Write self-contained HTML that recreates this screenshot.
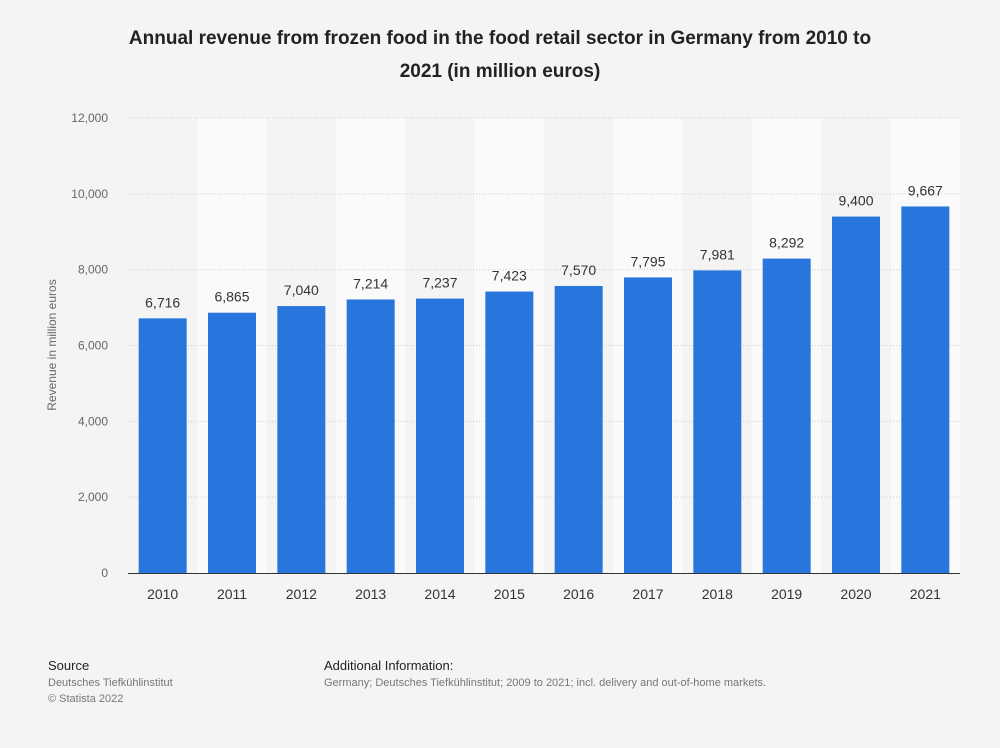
<!DOCTYPE html>
<html><head><meta charset="utf-8"><style>
body{margin:0;background:#f4f4f4;font-family:"Liberation Sans",sans-serif;}
#c{width:1000px;height:743px;position:relative;}
</style></head><body><div id="c">
<svg width="1000" height="743">
<text x="500" y="44" text-anchor="middle" font-size="19" font-weight="bold" fill="#222">Annual revenue from frozen food in the food retail sector in Germany from 2010 to</text>
<text x="500" y="77" text-anchor="middle" font-size="19" font-weight="bold" fill="#222">2021 (in million euros)</text>
<g id="plot"></g>
<text transform="translate(56,345) rotate(-90)" text-anchor="middle" font-size="12" fill="#666">Revenue in million euros</text>
<text x="48" y="670" font-size="13" fill="#222">Source</text>
<text x="48" y="686" font-size="11" fill="#777">Deutsches Tiefkühlinstitut</text>
<text x="48" y="702" font-size="11" fill="#777">© Statista 2022</text>
<text x="324" y="670" font-size="13" fill="#222">Additional Information:</text>
<text x="324" y="686" font-size="11" fill="#777">Germany; Deutsches Tiefkühlinstitut; 2009 to 2021; incl. delivery and out-of-home markets.</text>
</svg></div>
<script>
const categories=["2010","2011","2012","2013","2014","2015","2016","2017","2018","2019","2020","2021"];
const values=[6716,6865,7040,7214,7237,7423,7570,7795,7981,8292,9400,9667];
const valueLabels=["6,716","6,865","7,040","7,214","7,237","7,423","7,570","7,795","7,981","8,292","9,400","9,667"];
const yTicks=[0,2000,4000,6000,8000,10000,12000];
const yTickLabels=["0","2,000","4,000","6,000","8,000","10,000","12,000"];
const NS="http://www.w3.org/2000/svg";
const g=document.getElementById('plot');
const x0=128,x1=960,y0=573,y1=118,yMax=12000;
const step=(x1-x0)/categories.length,bw=48;
const y=v=>y0-(v/yMax)*(y0-y1);
const xc=i=>x0+step*(i+0.5);
function mk(t,a){const e=document.createElementNS(NS,t);for(const k in a)e.setAttribute(k,a[k]);g.appendChild(e);return e;}
categories.forEach((c,i)=>{if(i%2==1){const r=mk('rect',{x:x0+step*i,y:y1,width:step,height:y0-y1,fill:'#fafafa'});

}});
yTicks.forEach((t,i)=>{if(t>0){const l=mk('line',{x1:x0,x2:x1,y1:y(t),y2:y(t),stroke:'#ccc','stroke-dasharray':'1,2'});

}
const tx=mk('text',{x:108,y:y(t)+4,'text-anchor':'end','font-size':12,fill:'#666'});tx.textContent=yTickLabels[i];

});
categories.forEach((c,i)=>{
const b=mk('rect',{x:xc(i)-bw/2,y:y(values[i]),width:bw,height:y0-y(values[i]),fill:'#2876dd'});


const v=mk('text',{x:xc(i),y:y(values[i])-11,'text-anchor':'middle','font-size':14,fill:'#333'});v.textContent=valueLabels[i];


const t=mk('text',{x:xc(i),y:599,'text-anchor':'middle','font-size':14,fill:'#333'});t.textContent=c;

});
const ax=mk('line',{x1:x0,x2:x1,y1:y0+0.5,y2:y0+0.5,stroke:'#333'});


</script></body></html>
